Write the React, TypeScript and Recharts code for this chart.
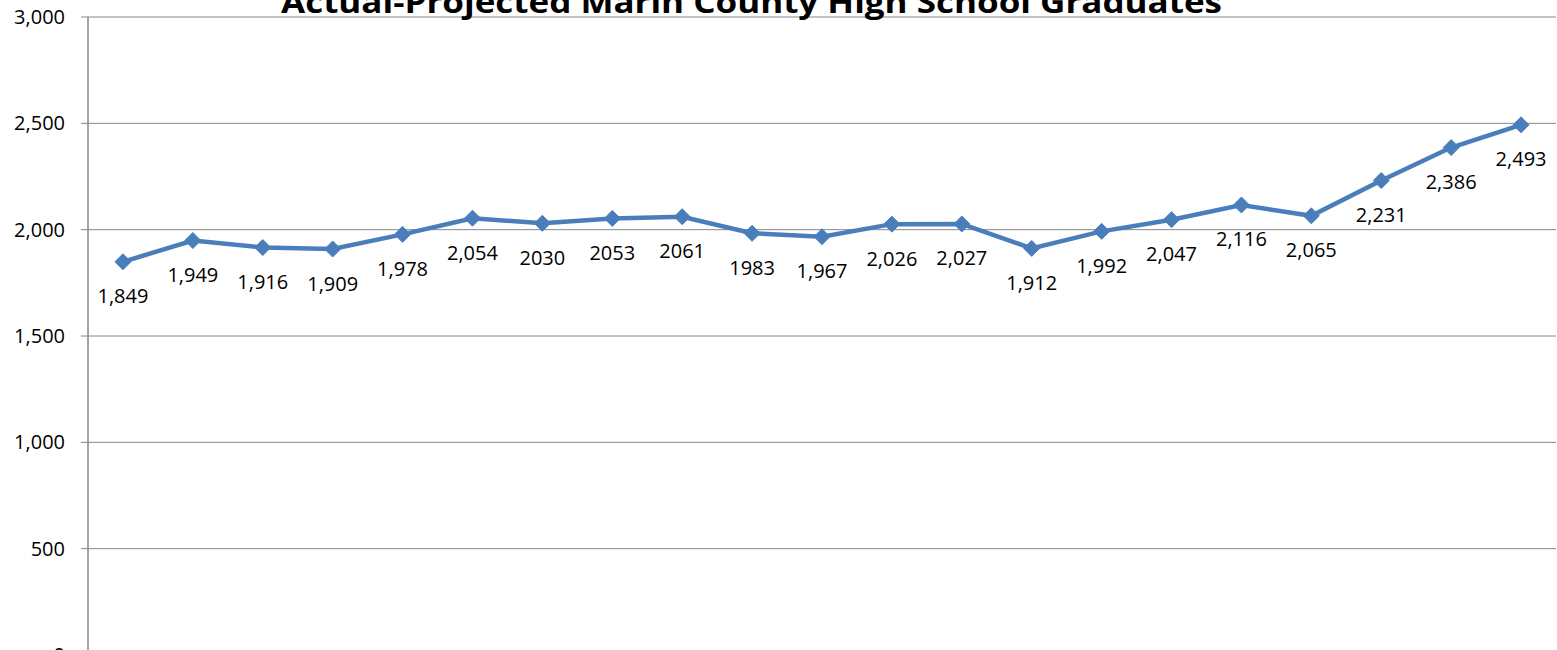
import React from 'react';
import { LineChart, Line, XAxis, YAxis, CartesianGrid, LabelList } from 'recharts';

// school years, one point each (axis itself sits below the visible area)
const years = [
  '2005', '2006', '2007', '2008', '2009', '2010', '2011', '2012', '2013', '2014', '2015',
  '2016', '2017', '2018', '2019', '2020', '2021', '2022', '2023', '2024', '2025',
];

const graduates = [
  1849, 1949, 1916, 1909, 1978, 2054, 2030, 2053, 2061, 1983, 1967,
  2026, 2027, 1912, 1992, 2047, 2116, 2065, 2231, 2386, 2493,
];

// data labels as printed on the original (some have no thousands separator)
const labelText = [
  '1,849', '1,949', '1,916', '1,909', '1,978', '2,054', '2030', '2053', '2061', '1983', '1,967',
  '2,026', '2,027', '1,912', '1,992', '2,047', '2,116', '2,065', '2,231', '2,386', '2,493',
];

const yTicks = [0, 500, 1000, 1500, 2000, 2500, 3000];

const TITLE = 'Actual-Projected Marin County High School Graduates';
const BLUE = '#4A7EBB';
const GRID = '#868686';
const FONT = '"Open Sans", "Noto Sans", sans-serif';

const chartData = years.map((year, i) => ({
  year,
  value: graduates[i],
  label: labelText[i],
}));

const Diamond = (props: any) => {
  const { cx, cy, index } = props;
  if (cx == null || cy == null) return <g key={`d-${index}`} />;
  const r = 8;
  return (
    <polygon
      key={`d-${index}`}
      points={`${cx},${cy - r} ${cx + r},${cy} ${cx},${cy + r} ${cx - r},${cy}`}
      fill={BLUE}
      stroke={BLUE}
      strokeWidth={1}
    />
  );
};

const PointLabel = (props: any) => {
  const { x, y, value } = props;
  return (
    <text
      x={x}
      y={y + 34}
      textAnchor="middle"
      dominantBaseline="central"
      fontFamily={FONT}
      fontSize={20}
      fill="#000"
    >
      {value}
    </text>
  );
};

export default function App() {
  return (
    <div style={{ position: 'absolute', left: 0, top: 0, width: 1557, height: 650, overflow: 'hidden', background: '#fff' }}>
      <LineChart
        width={1557}
        height={700}
        data={chartData}
        margin={{ top: 17, right: 1, left: 0, bottom: 45 }}
      >
        <CartesianGrid vertical={false} stroke={GRID} strokeWidth={1} />
        <XAxis dataKey="year" scale="band" hide />
        <YAxis
          width={88}
          domain={[0, 3000]}
          ticks={yTicks}
          interval={0}
          tickFormatter={(v: number) => v.toLocaleString('en-US')}
          tick={{ fontSize: 20, fill: '#000', fontFamily: FONT }}
          tickSize={7}
          tickMargin={16}
          axisLine={{ stroke: GRID, strokeWidth: 1.5 }}
          tickLine={{ stroke: GRID }}
        />
        <Line
          type="linear"
          dataKey="value"
          stroke={BLUE}
          strokeWidth={4.5}
          dot={Diamond}
          activeDot={false}
          isAnimationActive={false}
        >
          <LabelList dataKey="label" content={PointLabel} />
        </Line>
      </LineChart>
      <svg
        width={1557}
        height={40}
        style={{ position: 'absolute', left: 0, top: 0, pointerEvents: 'none' }}
      >
        <text
          x={281}
          y={13}
          textLength={941}
          lengthAdjust="spacingAndGlyphs"
          fontFamily={FONT}
          fontWeight="bold"
          fontSize={30}
          fill="#000"
        >
          {TITLE}
        </text>
      </svg>
    </div>
  );
}
